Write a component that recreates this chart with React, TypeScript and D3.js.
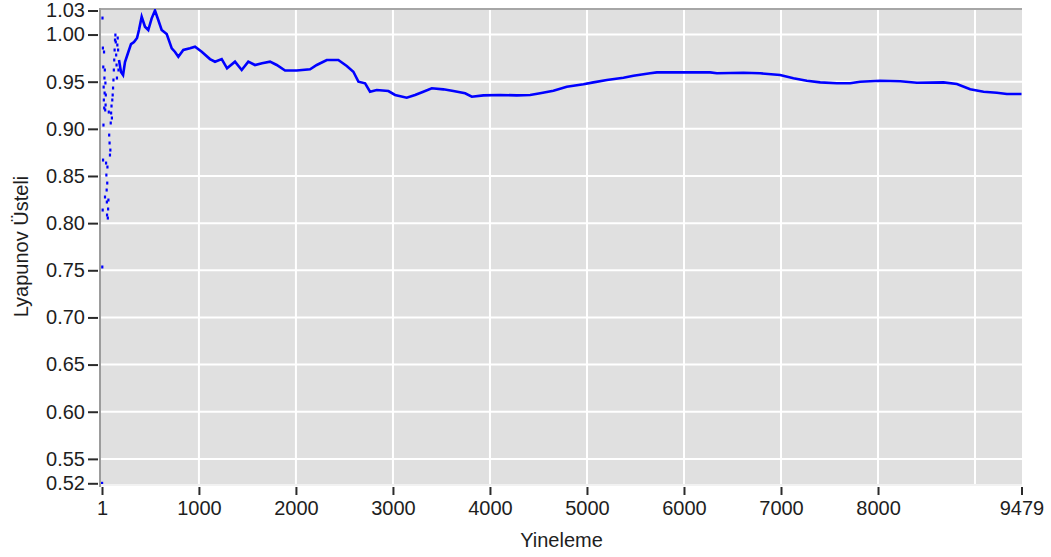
import React, { useEffect, useRef } from "react";
import * as d3 from "d3";

// Running estimate of the largest Lyapunov exponent vs. iteration count.
// Early iterations scatter widely before the estimate settles.
const earlyIter = [
  1, 3, 5, 7, 9, 11, 13, 15, 17, 19, 21, 23, 25, 27, 29, 31, 33, 35, 37, 39,
  42, 45, 48, 50, 52, 54, 56, 60, 63, 66, 70, 74, 78, 82, 86, 90, 94, 98, 102,
  106, 110, 114, 118, 122, 126, 130, 134, 138, 142, 146, 150, 154, 158, 162,
  166, 170,
];
const earlyVal = [
  0.5241, 0.7535, 1.0175, 0.8139, 0.9857, 0.8669, 0.9656, 0.904, 0.9443,
  0.9306, 0.9815, 0.9221, 0.9539, 0.938, 0.9624, 0.8277, 0.92, 0.9486, 0.9253,
  0.9359, 0.8637, 0.851, 0.8351, 0.8224, 0.8086, 0.8425, 0.8595, 0.8054,
  0.815, 0.8245, 0.9178, 0.8934, 0.885, 0.8722, 0.8775, 0.9062, 0.9168,
  0.9242, 0.9115, 0.9306, 0.9359, 0.9433, 0.9518, 0.9624, 0.973, 0.9836,
  0.9942, 0.9995, 0.9921, 0.9783, 0.9677, 0.9539, 0.9889, 0.9963, 0.9836,
  0.9624,
];

// Settled part of the estimate.
const traceIter = [
  176, 197, 218, 238, 269, 300, 331, 362, 382, 410, 444, 478, 513, 547, 581,
  616, 668, 720, 754, 788, 839, 908, 960, 1029, 1114, 1166, 1235, 1290, 1372,
  1441, 1509, 1578, 1651, 1733, 1802, 1888, 2008, 2146, 2215, 2318, 2437,
  2524, 2592, 2644, 2713, 2764, 2833, 2953, 3022, 3142, 3228, 3313, 3400,
  3520, 3623, 3744, 3813, 3932, 4104, 4277, 4414, 4517, 4654, 4792, 4964,
  5066, 5205, 5376, 5479, 5651, 5720, 6270, 6339, 6613, 6785, 6991, 7128,
  7266, 7404, 7576, 7713, 7816, 8023, 8229, 8401, 8675, 8813, 8950, 9088,
  9225, 9328, 9479,
];
const traceVal = [
  0.973, 0.9602, 0.9571, 0.9709, 0.9804, 0.9899, 0.9921, 0.9963, 1.0048,
  1.0189, 1.0083, 1.0048, 1.0172, 1.0255, 1.0154, 1.0048, 1.0005, 0.9854,
  0.9815, 0.9765, 0.9836, 0.9854, 0.9871, 0.9818, 0.974, 0.9712, 0.974,
  0.9642, 0.9712, 0.9624, 0.9712, 0.9677, 0.9695, 0.9712, 0.9677, 0.9618,
  0.9618, 0.9631, 0.9677, 0.973, 0.973, 0.9666, 0.9606, 0.95, 0.9483, 0.9394,
  0.9412, 0.9401, 0.9359, 0.933, 0.9359, 0.9394, 0.943, 0.9419, 0.9401,
  0.9377, 0.9341, 0.9355, 0.9359, 0.9355, 0.9359, 0.9377, 0.9404, 0.9447,
  0.9472, 0.9493, 0.9518, 0.9542, 0.9563, 0.9589, 0.9599, 0.9599, 0.9589,
  0.9595, 0.9589, 0.9571, 0.9536, 0.951, 0.9493, 0.9483, 0.9483, 0.95, 0.951,
  0.9504, 0.9489, 0.9493, 0.9475, 0.9419, 0.9394, 0.9383, 0.9369, 0.9369,
];

const xTickValues = [1, 1000, 2000, 3000, 4000, 5000, 6000, 7000, 8000, 9479];
const xGridValues = [1000, 2000, 3000, 4000, 5000, 6000, 7000, 8000, 9000];
const yGridValues = [0.55, 0.6, 0.65, 0.7, 0.75, 0.8, 0.85, 0.9, 0.95, 1.0];

const xTitle = "Yineleme";
const yTitle = "Lyapunov Üsteli";

const W = 1051;
const H = 557;
const FONT = "'Liberation Sans', Arial, sans-serif";

export default function App() {
  const ref = useRef<SVGSVGElement | null>(null);

  useEffect(() => {
    const svg = d3.select(ref.current);
    svg.selectAll("*").remove();

    const plot = { left: 101, right: 1022, top: 9, bottom: 484 };

    // Autoscaled y range: the full extent of the data.
    const allVals = earlyVal.concat(traceVal);
    const [yMin, yMax] = d3.extent(allVals) as [number, number];

    const x = d3
      .scaleLinear()
      .domain([1, 9479])
      .range([102, 1021.5]);
    const y = d3
      .scaleLinear()
      .domain([yMin, yMax])
      .range([483.3, 10.5]);

    // plot background
    svg
      .append("rect")
      .attr("x", plot.left)
      .attr("y", plot.top)
      .attr("width", plot.right - plot.left)
      .attr("height", plot.bottom - plot.top)
      .attr("fill", "#e0e0e0");

    // grid
    const grid = svg.append("g");
    grid
      .selectAll("line.v")
      .data(xGridValues)
      .join("line")
      .attr("x1", (d) => x(d))
      .attr("x2", (d) => x(d))
      .attr("y1", plot.top)
      .attr("y2", plot.bottom)
      .attr("stroke", "#ffffff")
      .attr("stroke-width", 2);
    grid
      .selectAll("line.h")
      .data(yGridValues)
      .join("line")
      .attr("x1", plot.left)
      .attr("x2", plot.right)
      .attr("y1", (d) => y(d))
      .attr("y2", (d) => y(d))
      .attr("stroke", "#ffffff")
      .attr("stroke-width", 2);

    // frame: darker top/left edges, light bottom/right edges
    svg
      .append("line")
      .attr("x1", plot.left - 1)
      .attr("x2", plot.right)
      .attr("y1", plot.top)
      .attr("y2", plot.top)
      .attr("stroke", "#a6a6a6")
      .attr("stroke-width", 2);
    svg
      .append("line")
      .attr("x1", plot.left - 1)
      .attr("x2", plot.left - 1)
      .attr("y1", plot.top - 1)
      .attr("y2", plot.bottom + 3)
      .attr("stroke", "#9c9c9c")
      .attr("stroke-width", 2);
    svg
      .append("line")
      .attr("x1", plot.left)
      .attr("x2", plot.right)
      .attr("y1", plot.bottom + 1)
      .attr("y2", plot.bottom + 1)
      .attr("stroke", "#f2f2f2")
      .attr("stroke-width", 2);

    // data
    const clipId = "plot-clip";
    svg
      .append("clipPath")
      .attr("id", clipId)
      .append("rect")
      .attr("x", plot.left)
      .attr("y", plot.top)
      .attr("width", plot.right - plot.left + 1)
      .attr("height", plot.bottom - plot.top);

    const dataG = svg.append("g").attr("clip-path", `url(#${clipId})`);

    const trace = traceIter.map((it, i) => [it, traceVal[i]] as [number, number]);
    const line = d3
      .line<[number, number]>()
      .x((d) => x(d[0]))
      .y((d) => y(d[1]))
      .curve(d3.curveLinear);
    dataG
      .append("path")
      .attr("d", line(trace) ?? "")
      .attr("fill", "none")
      .attr("stroke", "#0000ff")
      .attr("stroke-width", 2.6)
      .attr("stroke-linejoin", "miter");

    const early = earlyIter.map((it, i) => [it, earlyVal[i]] as [number, number]);
    dataG
      .selectAll("rect.dot")
      .data(early)
      .join("rect")
      .attr("x", (d) => x(d[0]) - 1)
      .attr("y", (d) => y(d[1]) - 1.5)
      .attr("width", 2.2)
      .attr("height", 3)
      .attr("fill", "#0000ff");

    // y axis
    const fmt = d3.format(".2f");
    const yAxis = d3
      .axisLeft(y)
      .tickValues([yMin, ...yGridValues, yMax])
      .tickFormat((d) => fmt(d as number))
      .tickSize(10)
      .tickPadding(3);
    const yg = svg.append("g").attr("transform", "translate(98,0)").call(yAxis);
    yg.select(".domain").remove();
    yg.selectAll(".tick line").attr("stroke", "#2a2a2a").attr("stroke-width", 2);
    yg.selectAll(".tick text")
      .attr("fill", "#1e1e1e")
      .style("font-family", FONT)
      .style("font-size", "20px");

    // x axis
    const xAxis = d3
      .axisBottom(x)
      .tickValues(xTickValues)
      .tickFormat((d) => String(d))
      .tickSize(8)
      .tickPadding(6);
    const xg = svg.append("g").attr("transform", "translate(0,487)").call(xAxis);
    xg.select(".domain").remove();
    xg.selectAll(".tick line").attr("stroke", "#2a2a2a").attr("stroke-width", 2);
    xg.selectAll(".tick text")
      .attr("fill", "#1e1e1e")
      .style("font-family", FONT)
      .style("font-size", "20px");

    // axis titles
    svg
      .append("text")
      .attr("x", (plot.left + plot.right) / 2)
      .attr("y", 547)
      .attr("text-anchor", "middle")
      .attr("fill", "#1e1e1e")
      .style("font-family", FONT)
      .style("font-size", "20px")
      .text(xTitle);
    svg
      .append("text")
      .attr("transform", `translate(28,${(plot.top + plot.bottom) / 2}) rotate(-90)`)
      .attr("text-anchor", "middle")
      .attr("fill", "#1e1e1e")
      .style("font-family", FONT)
      .style("font-size", "20px")
      .text(yTitle);
  }, []);

  return (
    <svg
      ref={ref}
      width={W}
      height={H}
      style={{ position: "absolute", left: 0, top: 0, background: "#ffffff" }}
    />
  );
}
